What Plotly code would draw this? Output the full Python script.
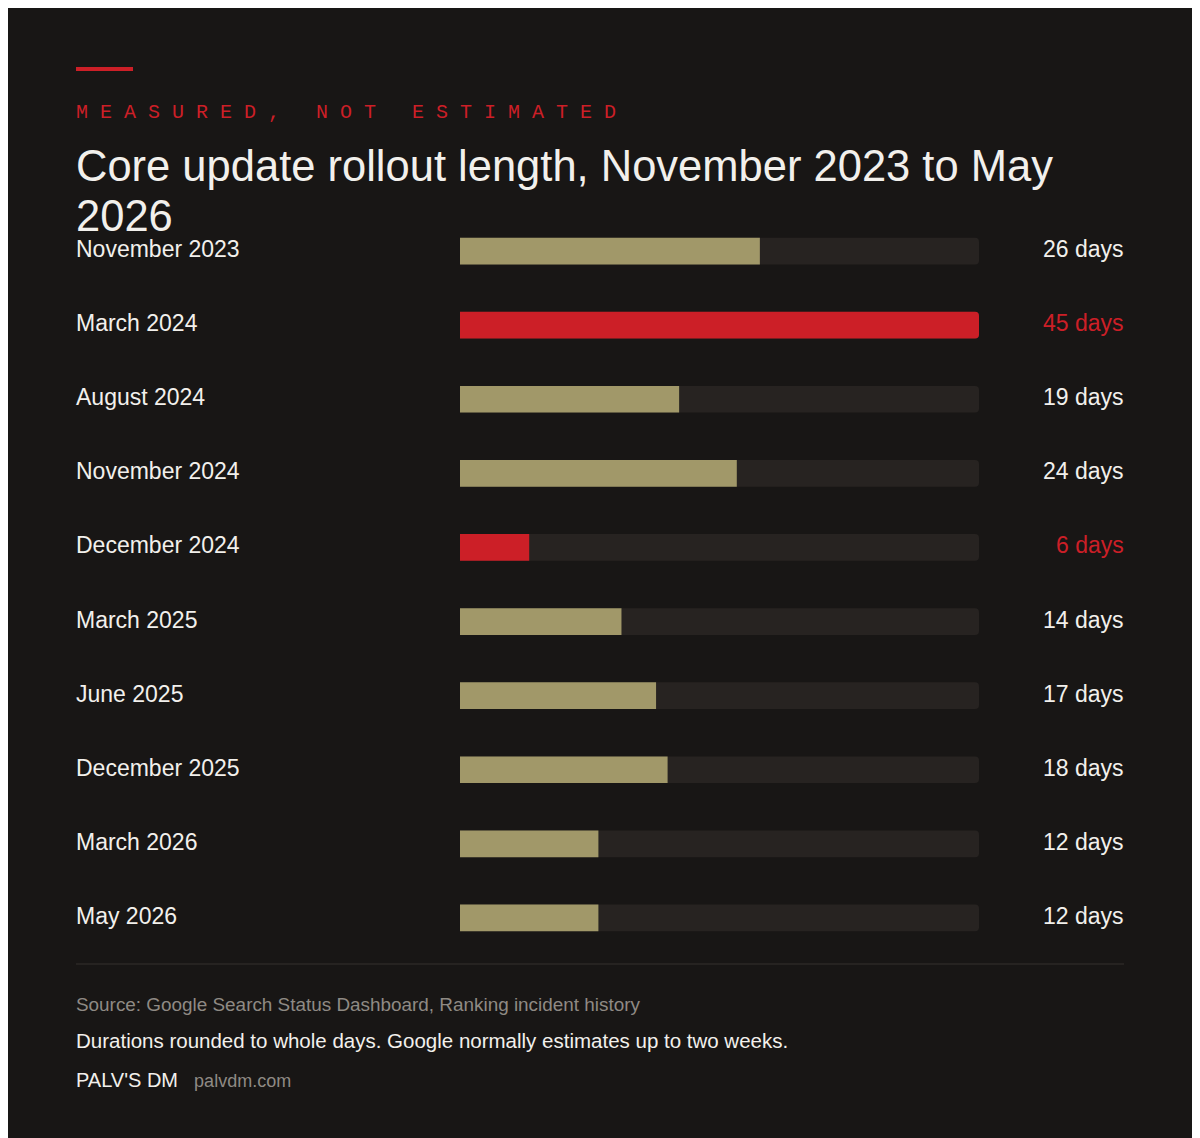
import plotly.graph_objects as go

labels = ["November 2023", "March 2024", "August 2024", "November 2024", "December 2024",
          "March 2025", "June 2025", "December 2025", "March 2026", "May 2026"]
days = [26, 45, 19, 24, 6, 14, 17, 18, 12, 12]
highlight = [False, True, False, False, True, False, False, False, False, False]
max_days = 45

W, H = 1200, 1138
OFF = 8  # page body margin
BG = "#181615"
TRACK = "#272321"
TAN = "#a19869"
RED = "#cc1f27"
SANS = "Liberation Sans, Arial, sans-serif"


def px_x(x):
    return (x - OFF) / W


def px_y(y):
    return 1 - (y - OFF) / H


fig = go.Figure()
fig.add_trace(go.Bar(y=labels, x=[max_days] * len(labels), orientation="h",
                     marker=dict(color=TRACK, line_width=0), width=0.36,
                     hoverinfo="skip"))
fig.add_trace(go.Bar(y=labels, x=days, orientation="h",
                     marker=dict(color=[RED if h else TAN for h in highlight], line_width=0),
                     width=0.36))

annotations = []
for lab, d, h in zip(labels, days, highlight):
    annotations.append(dict(x=px_x(74), xref="paper", y=lab, yref="y", text=lab,
                            xanchor="left", yanchor="middle", showarrow=False, yshift=2,
                            font=dict(family=SANS, size=23, color="#f2f0ec")))
    annotations.append(dict(x=px_x(1126), xref="paper", y=lab, yref="y", text=f"{d} days",
                            xanchor="right", yanchor="middle", showarrow=False, yshift=2,
                            font=dict(family=SANS, size=23, color=RED if h else "#f2f0ec")))


def note(y, text, size, color, family=SANS):
    return dict(x=px_x(74), y=px_y(y), xref="paper", yref="paper", text=text,
                xanchor="left", yanchor="middle", showarrow=False,
                font=dict(family=family, size=size, color=color))


sub = "\u00a0".join("MEASURED,\u00a0NOT\u00a0ESTIMATED")
annotations += [
    note(112, sub, 20, RED, "Liberation Mono, DejaVu Sans Mono, monospace"),
    note(166, "Core update rollout length, November 2023 to May", 43.5, "#f2f0ec"),
    note(216, "2026", 43.5, "#f2f0ec"),
    note(1004, "Source: Google Search Status Dashboard, Ranking incident history", 18.9, "#8f8a84"),
    note(1040, "Durations rounded to whole days. Google normally estimates up to two weeks.", 20.5, "#f2f0ec"),
    note(1080, "PALV'S DM  <span style='color:#8f8a84;font-size:18px'> palvdm.com</span>", 20, "#f2f0ec"),
]

fig.update_layout(
    width=W, height=H, barmode="overlay", showlegend=False,
    paper_bgcolor=BG, plot_bgcolor=BG,
    margin=dict(l=0, r=0, t=0, b=0),
    barcornerradius=4,
    xaxis=dict(domain=[px_x(460), px_x(979)], range=[0, max_days], visible=False, fixedrange=True),
    yaxis=dict(domain=[px_y(955), px_y(214)], range=[9.5, -0.5], visible=False,
               categoryorder="array", categoryarray=labels, fixedrange=True),
    annotations=annotations,
    shapes=[
        dict(type="rect", xref="paper", yref="paper", x0=px_x(76), x1=px_x(133),
             y0=px_y(71), y1=px_y(67), fillcolor=RED, line_width=0),
        dict(type="line", xref="paper", yref="paper", x0=px_x(76), x1=px_x(1124),
             y0=px_y(964), y1=px_y(964), line=dict(color="#35312e", width=1)),
    ],
)

fig.write_html("out.html")
